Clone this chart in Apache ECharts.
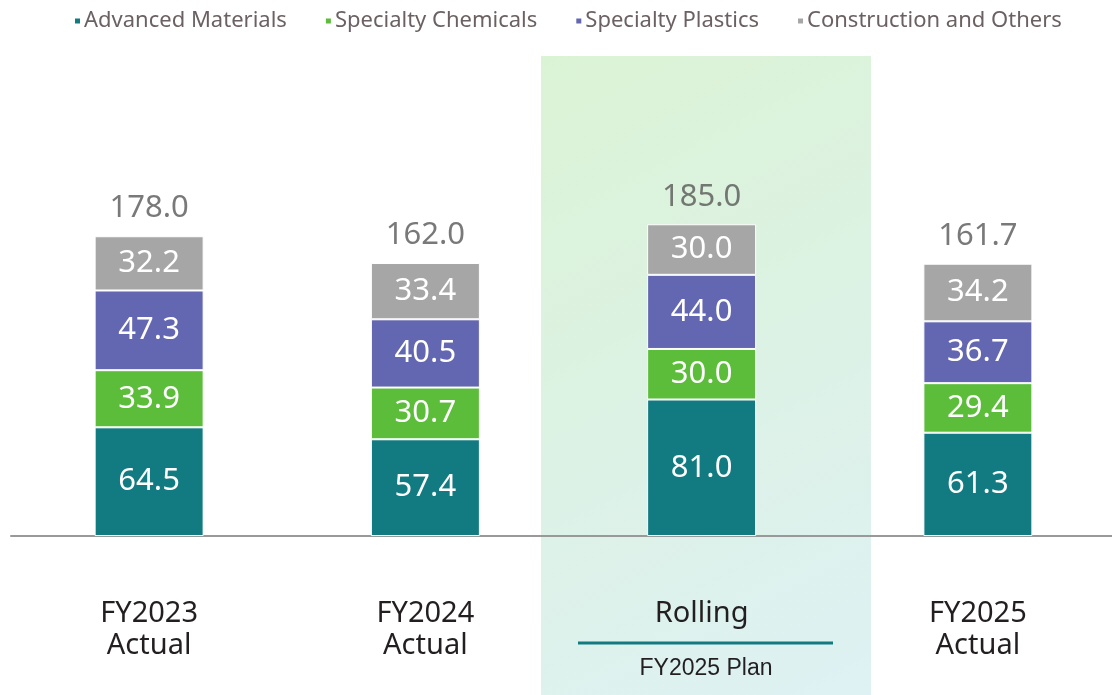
<!DOCTYPE html>
<html>
<head>
<meta charset="utf-8">
<script src="https://cdn.jsdelivr.net/npm/echarts@6/dist/echarts.min.js"></script>
<style>
  html, body { margin: 0; padding: 0; background: #fff; }
  #main { width: 1112px; height: 695px; }
</style>
</head>
<body>
<div id="main"></div>
<script>
  // 数据
  var categories = ['FY2023\nActual', 'FY2024\nActual', 'Rolling', 'FY2025\nActual'];
  var advanced = [64.5, 57.4, 81.0, 61.3];
  var chemicals = [33.9, 30.7, 30.0, 29.4];
  var plastics = [47.3, 40.5, 44.0, 36.7];
  var others = [32.2, 33.4, 30.0, 34.2];
  var totals = [178.0, 162.0, 185.0, 161.7];

  var font = 'Noto Sans';
  var chart = echarts.init(document.getElementById('main'));

  function segment(name, data, color) {
    return {
      name: name,
      type: 'bar',
      stack: 'total',
      barWidth: 109,
      data: data,
      itemStyle: { color: color, borderColor: '#fff', borderWidth: 1 },
      label: {
        show: true,
        position: 'inside',
        color: '#fff',
        fontSize: 31,
        fontFamily: font,
        formatter: function (p) { return p.value.toFixed(1); }
      }
    };
  }

  var option = {
    animation: false,
    legend: {
      top: 5,
      left: 68,
      itemWidth: 7,
      itemHeight: 7,
      itemGap: 37,
      icon: 'rect',
      textStyle: { color: '#6b6163', fontSize: 22, fontFamily: font, padding: [0, 0, 0, -2] },
      data: ['Advanced Materials', 'Specialty Chemicals', 'Specialty Plastics', 'Construction and Others']
    },
    grid: { left: 11, right: -4, top: 199, bottom: 159, outerBoundsMode: 'none' },
    xAxis: {
      type: 'category',
      data: categories,
      axisLine: { lineStyle: { color: '#999', width: 2 } },
      axisTick: { show: false },
      axisLabel: { color: '#231f20', fontSize: 29, fontFamily: font, lineHeight: 32, margin: 62 }
    },
    yAxis: { type: 'value', min: 0, max: 200, show: false },
    graphic: [
      {
        type: 'rect',
        z: -10,
        shape: { x: 541, y: 56, width: 330, height: 639 },
        style: {
          fill: new echarts.graphic.LinearGradient(0, 0, 1, 1, [
            { offset: 0, color: '#dbf3d5' },
            { offset: 1, color: '#def1f4' }
          ])
        }
      },
      {
        type: 'line',
        shape: { x1: 578, y1: 643, x2: 833, y2: 643 },
        style: { stroke: '#127b82', lineWidth: 3 }
      },
      {
        type: 'text',
        x: 706,
        y: 669,
        style: {
          text: 'FY2025 Plan',
          fill: '#231f20',
          fontSize: 23,
          fontFamily: 'Liberation Sans',
          align: 'center',
          verticalAlign: 'middle'
        }
      }
    ],
    series: [
      segment('Advanced Materials', advanced, '#127b82'),
      segment('Specialty Chemicals', chemicals, '#5bbd39'),
      segment('Specialty Plastics', plastics, '#6366b0'),
      segment('Construction and Others', others, '#a6a6a6'),
      {
        name: 'total',
        type: 'scatter',
        data: totals,
        symbolSize: 0,
        label: {
          show: true,
          position: 'top',
          distance: 12,
          color: '#595757',
          fontSize: 31,
          fontFamily: font,
          formatter: function (p) { return p.value.toFixed(1); }
        }
      }
    ]
  };
  chart.setOption(option);
</script>
</body>
</html>
